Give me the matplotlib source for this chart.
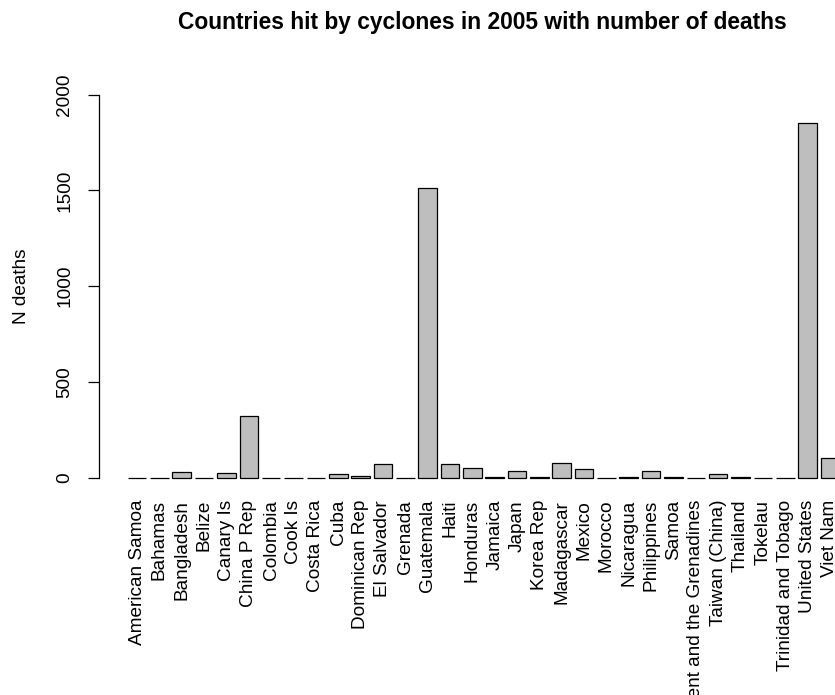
import matplotlib
matplotlib.use("Agg")
import matplotlib.pyplot as plt
import numpy as np

countries = ["American Samoa", "Bahamas", "Bangladesh", "Belize", "Canary Is",
             "China P Rep", "Colombia", "Cook Is", "Costa Rica", "Cuba",
             "Dominican Rep", "El Salvador", "Grenada", "Guatemala", "Haiti",
             "Honduras", "Jamaica", "Japan", "Korea Rep", "Madagascar", "Mexico",
             "Morocco", "Nicaragua", "Philippines", "Samoa",
             "St Vincent and the Grenadines", "Taiwan (China)", "Thailand",
             "Tokelau", "Trinidad and Tobago", "United States", "Viet Nam"]
deaths = [0, 0, 28, 0, 22,
          324, 0, 0, 0, 20,
          8, 72, 0, 1511, 72,
          52, 6, 35, 6, 78, 47,
          0, 6, 35, 6,
          0, 20, 6,
          0, 0, 1850, 103]
yticks = [0, 500, 1000, 1500, 2000]

plt.rcParams['font.family'] = ['Liberation Sans', 'DejaVu Sans']

W, H = 835, 695
fig = plt.figure(figsize=(W / 100, H / 100), dpi=100)
left_px, right_px = 99.3, 867.7
top_px, bot_px = 79.4, 493.0
ax = fig.add_axes([left_px / W, 1 - bot_px / H, (right_px - left_px) / W, (bot_px - top_px) / H])

space, width = 0.2, 1.0
x = space + width / 2 + np.arange(len(countries)) * (space + width)
ax.bar(x, deaths, width=width, color='#bebebe', edgecolor='black', linewidth=0.9)

n = len(countries)
xmin, xmax = space, n * (space + width)
ext = 0.04 * (xmax - xmin)
ax.set_xlim(xmin - ext, xmax + ext)
ax.set_ylim(-80, 2080)

for s in ['top', 'right', 'bottom']:
    ax.spines[s].set_visible(False)
ax.spines['left'].set_bounds(0, 2000)
ax.spines['left'].set_linewidth(0.9)

ax.set_yticks(yticks)
ax.set_yticklabels([str(v) for v in yticks], rotation=90, va='center', fontsize=13.7)
ax.tick_params(axis='y', length=7.6, width=0.9, pad=11)

ax.set_xticks(x)
ax.set_xticklabels(countries, rotation=90, fontsize=13.7)
ax.tick_params(axis='x', length=0, pad=5)

ax.set_ylabel("N deaths", fontsize=13.7)
ax.yaxis.set_label_coords(-(left_px - 30) / (right_px - left_px), 0.5)

fig.text(482.6 / W, 1 - 29.0 / H, "Countries hit by cyclones in 2005 with number of deaths",
         ha='center', va='baseline', fontsize=16.4, fontweight='bold')

fig.savefig("out.png", dpi=100)
